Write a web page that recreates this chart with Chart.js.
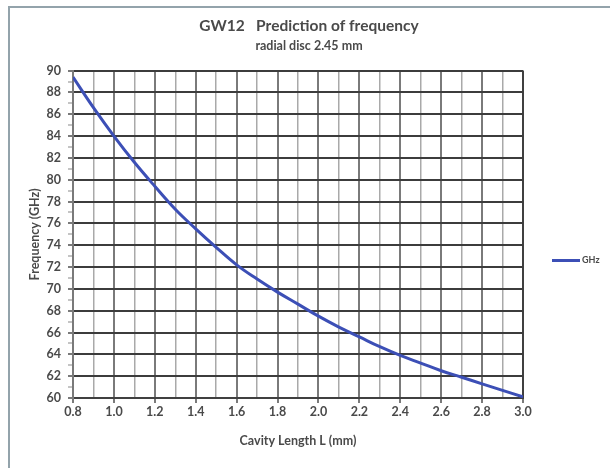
<!DOCTYPE html>
<html>
<head>
<meta charset="utf-8">
<title>GW12 Prediction of frequency</title>
<script src="https://cdn.jsdelivr.net/npm/chart.js@4/dist/chart.umd.min.js"></script>
<style>
  html, body {
    margin: 0;
    padding: 0;
    background: #ffffff;
  }
  #frame {
    position: absolute;
    left: 8px;
    top: 6px;
    width: 601px;
    height: 462px;
    border-top: 2px solid #93a3ab;
    border-left: 2px solid #93a3ab;
    background: #ffffff;
  }
  #chart {
    position: absolute;
    left: 0;
    top: 0;
  }
</style>
</head>
<body>
<div id="frame">
  <canvas id="chart" width="598" height="444"></canvas>
</div>
<script>
// cavity length L (mm) and predicted frequency (GHz)
const lengths = [0.8, 0.9, 1.0, 1.1, 1.2, 1.3, 1.4, 1.5, 1.6, 1.7, 1.8, 1.9,
  2.0, 2.1, 2.2, 2.3, 2.4, 2.5, 2.6, 2.7, 2.8, 2.9, 3.0];
const frequencies = [89.4, 86.6, 84.0, 81.6, 79.4, 77.3, 75.5, 73.8, 72.2, 70.9, 69.7, 68.6,
  67.5, 66.5, 65.6, 64.7, 63.9, 63.2, 62.5, 61.9, 61.3, 60.7, 60.1];
const xTicks = ['0.8', '1.0', '1.2', '1.4', '1.6', '1.8', '2.0', '2.2', '2.4', '2.6', '2.8', '3.0'];
const yTicks = [60, 62, 64, 66, 68, 70, 72, 74, 76, 78, 80, 82, 84, 86, 88, 90];

const seriesName = 'GHz';
const fontFamily = 'Lato, "Open Sans", sans-serif';
const textColor = '#4a4a4a';
const tickFont = { family: fontFamily, size: 12.5, weight: 'bold' };
const axisTitleFont = { family: fontFamily, size: 12.5, weight: 'bold' };

// legend drawn to the right of the plot, a short line plus the series name
const sideLegend = {
  id: 'sideLegend',
  afterDraw(chart) {
    const { ctx, chartArea } = chart;
    const ds = chart.data.datasets[0];
    const y = chartArea.top + (chartArea.bottom - chartArea.top) * 0.58;
    const x = chartArea.right + 29;
    ctx.save();
    ctx.strokeStyle = ds.borderColor;
    ctx.lineWidth = 3;
    ctx.beginPath();
    ctx.moveTo(x, y);
    ctx.lineTo(x + 28, y);
    ctx.stroke();
    ctx.fillStyle = textColor;
    ctx.font = 'bold 9px ' + fontFamily;
    ctx.textBaseline = 'middle';
    ctx.fillText(ds.label, x + 30, y);
    ctx.restore();
  }
};

const ctx = document.getElementById('chart');

new Chart(ctx, {
  type: 'line',
  data: {
    datasets: [
      {
        label: seriesName,
        data: lengths.map((l, i) => ({ x: l, y: frequencies[i] })),
        borderColor: '#3c4fb6',
        backgroundColor: '#3c4fb6',
        borderWidth: 3,
        pointRadius: 0,
        tension: 0.4,
        fill: false
      }
    ]
  },
  options: {
    responsive: false,
    animation: false,
    layout: {
      padding: 0
    },
    plugins: {
      legend: { display: false },
      tooltip: { enabled: false },
      title: {
        display: true,
        text: 'GW12   Prediction of frequency',
        color: textColor,
        font: { family: fontFamily, size: 15.5, weight: 'bold' },
        padding: { top: 9, bottom: 3 }
      },
      subtitle: {
        display: true,
        text: 'radial disc 2.45 mm',
        color: textColor,
        font: { family: fontFamily, size: 12.5, weight: 'bold' },
        padding: { top: 0, bottom: 17 }
      }
    },
    scales: {
      x: {
        type: 'linear',
        min: 0.8,
        max: 3.0,
        afterFit: scale => { scale.height = 54; },
        ticks: {
          stepSize: 0.1,
          autoSkip: false,
          maxRotation: 0,
          padding: 1,
          color: textColor,
          font: tickFont,
          callback: (value, index) => (index % 2 === 0 ? xTicks[index / 2] : '')
        },
        grid: {
          tickLength: 5,
          color: c => (c.index === 22 ? '#404040' : c.index % 2 === 0 ? '#7a7a7a' : '#a9a9a9'),
          lineWidth: c => (c.index % 2 === 0 ? 2 : 1.5),
          tickColor: c => (c.index % 2 === 0 ? '#7a7a7a' : 'rgba(0,0,0,0)')
        },
        border: { color: '#404040', width: 2 },
        title: {
          display: true,
          text: 'Cavity Length L (mm)',
          color: textColor,
          font: axisTitleFont,
          padding: { top: 4, bottom: 4 }
        }
      },
      y: {
        min: 60,
        max: 90,
        afterFit: scale => { scale.width = 63; },
        ticks: {
          stepSize: 1,
          autoSkip: false,
          padding: 7,
          color: textColor,
          font: tickFont,
          callback: value => (yTicks.includes(value) ? String(value) : '')
        },
        grid: {
          tickLength: 5,
          color: c => (c.tick.value % 2 === 0 ? '#3c3c3c' : 'rgba(0,0,0,0)'),
          lineWidth: 2,
          tickColor: c => (c.tick.value % 2 === 0 ? '#7a7a7a' : '#c4c4c4')
        },
        border: { color: '#7a7a7a', width: 2 },
        title: {
          display: true,
          text: 'Frequency (GHz)',
          color: textColor,
          font: axisTitleFont,
          padding: { top: 17, bottom: 17 }
        }
      },
      // empty right-hand axis that keeps room for the legend
      side: {
        type: 'linear',
        position: 'right',
        display: true,
        afterFit: scale => { scale.width = 85; },
        ticks: { display: false },
        grid: { display: false, drawTicks: false },
        border: { display: false }
      }
    }
  },
  plugins: [sideLegend]
});
</script>
</body>
</html>
